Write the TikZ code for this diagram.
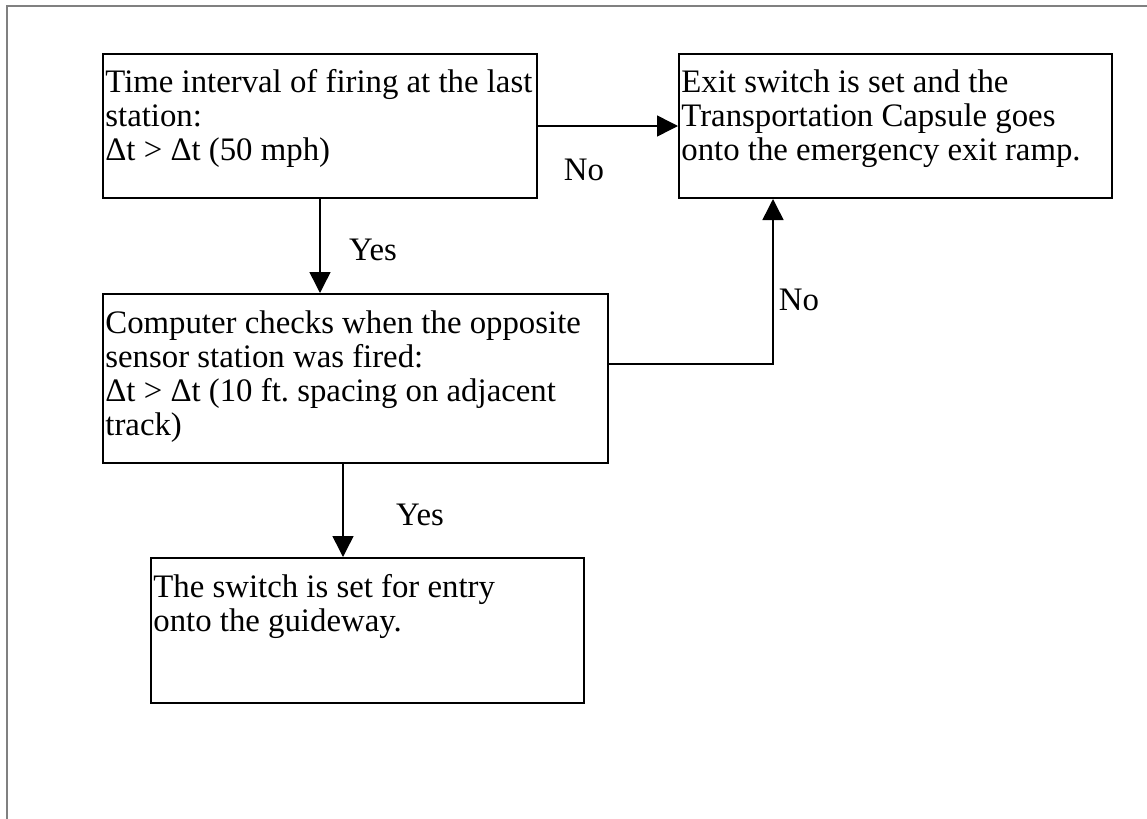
\documentclass[tikz,border=0pt]{standalone}
\usepackage{fontspec}
\setmainfont{Liberation Serif}
\usetikzlibrary{arrows.meta}
\frenchspacing
\begin{document}
\begin{tikzpicture}[x=0.5pt,y=-0.5pt,
  box/.style={draw, line width=1pt, inner sep=0pt, anchor=north west},
  txt/.style={anchor=base west, inner sep=0pt, font=\fontsize{16.4pt}{17pt}\selectfont},
  lbl/.style={inner sep=0pt, font=\fontsize{16.4pt}{17pt}\selectfont},
  arr/.style={line width=0.75pt, -{Triangle[width=10.5pt,length=10.5pt]}},
  frame/.style={draw=gray, line width=1pt}]
\useasboundingbox (0,0) rectangle (1147,819);
% outer frame (only left and top edges visible)
\coordinate (fbl) at (7,819);
\coordinate (ftl) at (7,6);
\coordinate (ftr) at (1147,6);
\draw[frame] (fbl) -- (ftl) -- (ftr);
% boxes
\node[box, minimum width=217pt, minimum height=72pt] (b1) at (102,53) {};
\node[box, minimum width=216.5pt, minimum height=72pt] (b2) at (678,53) {};
\node[box, minimum width=252.5pt, minimum height=84.5pt] (b3) at (102,293) {};
\node[box, minimum width=216.5pt, minimum height=72.5pt] (b4) at (150,557) {};
% texts
\node[txt] (t1) at (105,92) {\vtop{\hbox{Time interval of firing at the last}\hbox{station:}\hbox{Δt > Δt (50 mph)}}};
\node[txt] (t2) at (681,92) {\vtop{\hbox{Exit switch is set and the}\hbox{Transportation Capsule goes}\hbox{onto the emergency exit ramp.}}};
\node[txt] (t3) at (105,333) {\vtop{\hbox{Computer checks when the opposite}\hbox{sensor station was fired:}\hbox{Δt > Δt (10 ft. spacing on adjacent}\hbox{track)}}};
\node[txt] (t4) at (153,597) {\vtop{\hbox{The switch is set for entry}\hbox{onto the guideway.}}};
% labels
\node[lbl] (l1) at (584,170) {No};
\node[lbl] (l2) at (373,250) {Yes};
\node[lbl] (l3) at (799,300) {No};
\node[lbl] (l4) at (420,515) {Yes};
% connectors
\coordinate (c2) at (773,364);
\coordinate (c3) at (343,462);
\draw[arr] (b1.east) -- (b2.west);
\draw[arr] (b1.south) -- (b3.north -| b1.south);
\draw[arr] (b3.east |- c2) -- (c2) -- (c2 |- b2.south);
\draw[arr] (b3.south -| c3) -- (b4.north -| c3);
\end{tikzpicture}
\end{document}
